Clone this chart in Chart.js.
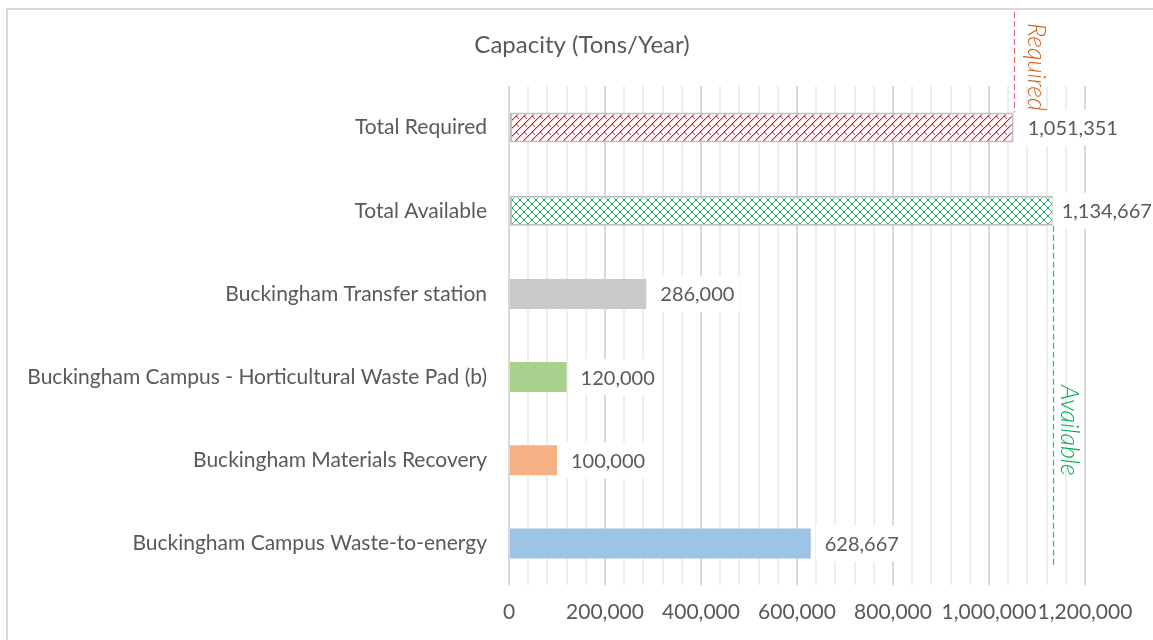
<!DOCTYPE html>
<html>
<head>
<meta charset="utf-8">
<script src="https://cdn.jsdelivr.net/npm/chart.js@4.4.1/dist/chart.umd.min.js"></script>
<style>
  html, body { margin: 0; padding: 0; background: #ffffff; }
  #wrap { width: 1153px; height: 640px; position: relative; }
</style>
</head>
<body>
<div id="wrap"><canvas id="c" width="1153" height="640"></canvas></div>
<script>
// ---- Data ----
const categories = [
  'Total Required',
  'Total Available',
  'Buckingham Transfer station',
  'Buckingham Campus - Horticultural Waste Pad (b)',
  'Buckingham Materials Recovery',
  'Buckingham Campus Waste-to-energy'
];
const capacity = [1051351, 1134667, 286000, 120000, 100000, 628667];
const chartTitle = 'Capacity (Tons/Year)';
const axisMin = 0;
const axisMax = 1200000;
const majorStep = 200000;
const minorStep = 40000;
const refRequired = { label: 'Required', value: 1051351 };
const refAvailable = { label: 'Available', value: 1134667 };

// ---- Styles ----
const TEXT = '#595959';
const FONT = 'Lato';

function makePattern(kind) {
  const c = document.createElement('canvas');
  c.width = 8; c.height = 8;
  const g = c.getContext('2d');
  g.fillStyle = '#ffffff';
  g.fillRect(0, 0, 8, 8);
  const px = (x, y, col) => { g.fillStyle = col; g.fillRect(((x % 8) + 8) % 8, ((y % 8) + 8) % 8, 1, 1); };
  if (kind === 'red') {
    for (let i = 0; i < 8; i++) px(i + 1, 7 - i, '#f2a9ae');
    for (let i = 0; i < 8; i++) px(i, 7 - i, '#cc1f2c');
    px(4, 4, '#d0303c'); px(5, 5, '#d84452'); px(6, 6, '#e26a74');
    px(5, 4, '#f5c2c6'); px(6, 5, '#f7d0d3');
  } else {
    for (let i = 0; i < 8; i++) { px(i, i, '#4cc37f'); px(7 - i, i, '#4cc37f'); }
    px(3, 3, '#00a34e'); px(4, 4, '#00a34e'); px(3, 4, '#00a34e'); px(4, 3, '#00a34e');
    px(0, 0, '#00a34e'); px(7, 7, '#00a34e'); px(0, 7, '#00a34e'); px(7, 0, '#00a34e');
  }
  const ctx = document.getElementById('c').getContext('2d');
  return ctx.createPattern(c, 'repeat');
}

const barColors = [
  makePattern('red'),
  makePattern('green'),
  '#c9c9c9',
  '#a9d18e',
  '#f4b183',
  '#9dc3e6'
];
const barBorders = ['#bfbfbf', '#bfbfbf', 'rgba(0,0,0,0)', 'rgba(0,0,0,0)', 'rgba(0,0,0,0)', 'rgba(0,0,0,0)'];
const barBorderW = [2, 2, 0, 0, 0, 0];

const fmt = v => v.toLocaleString('en-US');

const framePlugin = {
  id: 'frame',
  beforeDraw(chart) {
    const ctx = chart.ctx;
    ctx.save();
    ctx.fillStyle = '#ffffff';
    ctx.fillRect(0, 0, chart.width, chart.height);
    ctx.strokeStyle = '#d9d9d9';
    ctx.lineWidth = 2;
    ctx.strokeRect(7, 9, 1300, 800);
    ctx.fillStyle = TEXT;
    ctx.font = '24px ' + FONT;
    ctx.textAlign = 'center';
    ctx.textBaseline = 'middle';
    ctx.fillText(chartTitle, 582, 45);
    ctx.restore();
  }
};

const labelPlugin = {
  id: 'valueLabels',
  afterDatasetsDraw(chart) {
    const ctx = chart.ctx;
    const meta = chart.getDatasetMeta(0);
    ctx.save();
    ctx.font = '20px ' + FONT;
    ctx.textBaseline = 'middle';
    ctx.textAlign = 'left';
    meta.data.forEach((bar, i) => {
      const txt = fmt(chart.data.datasets[0].data[i]);
      const w = ctx.measureText(txt).width;
      let tx = bar.x + 14;
      if (tx + w > chart.width - 2) tx = Math.max(bar.x + 8, chart.width - 2 - w);
      ctx.fillStyle = '#ffffff';
      ctx.fillRect(tx - 9, bar.y - 18, w + 14, 36);
      ctx.fillStyle = TEXT;
      ctx.fillText(txt, tx, bar.y + 1);
    });
    ctx.restore();
  }
};

const refPlugin = {
  id: 'refLines',
  afterDatasetsDraw(chart) {
    const ctx = chart.ctx;
    const xs = chart.scales.x;
    const area = chart.chartArea;
    const meta = chart.getDatasetMeta(0);
    const barReq = meta.data[0];
    const barAvl = meta.data[1];
    ctx.save();
    ctx.lineWidth = 1.2;
    ctx.setLineDash([6, 3]);
    // Required line
    let x = Math.round(xs.getPixelForValue(refRequired.value)) + 0.5;
    ctx.strokeStyle = '#de6f78';
    ctx.beginPath();
    ctx.moveTo(x, 12);
    ctx.lineTo(x, barReq.y - barReq.height / 2);
    ctx.stroke();
    ctx.setLineDash([]);
    ctx.save();
    ctx.translate(x + 22, 23);
    ctx.rotate(Math.PI / 2);
    ctx.font = 'italic 300 25px ' + FONT;
    ctx.fillStyle = '#cf6420';
    ctx.textAlign = 'left';
    ctx.textBaseline = 'middle';
    ctx.fillText(refRequired.label, 0, 0);
    ctx.restore();
    // Available line
    ctx.setLineDash([6, 3]);
    x = Math.round(xs.getPixelForValue(refAvailable.value)) - 0.5;
    ctx.strokeStyle = '#2fbf6e';
    ctx.beginPath();
    ctx.moveTo(x, barAvl.y + barAvl.height / 2);
    ctx.lineTo(x, area.bottom - 19);
    ctx.stroke();
    ctx.setLineDash([]);
    ctx.save();
    ctx.translate(x + 16, 385);
    ctx.rotate(Math.PI / 2);
    ctx.font = 'italic 300 25px ' + FONT;
    ctx.fillStyle = '#00b050';
    ctx.textAlign = 'left';
    ctx.textBaseline = 'middle';
    ctx.fillText(refAvailable.label, 0, 0);
    ctx.restore();
    ctx.restore();
  }
};

new Chart(document.getElementById('c'), {
  type: 'bar',
  data: {
    labels: categories,
    datasets: [{
      data: capacity,
      backgroundColor: barColors,
      borderColor: barBorders,
      borderWidth: barBorderW,
      borderSkipped: false,
      barPercentage: 0.36,
      categoryPercentage: 1.0
    }]
  },
  options: {
    indexAxis: 'y',
    responsive: false,
    animation: false,
    devicePixelRatio: 1,
    layout: { padding: { left: 0, right: 68, top: 86, bottom: 0 } },
    plugins: {
      legend: { display: false },
      tooltip: { enabled: false },
      title: { display: false }
    },
    scales: {
      x: {
        type: 'linear',
        min: axisMin,
        max: axisMax,
        afterFit(scale) { scale.height = 55; },
        ticks: {
          stepSize: minorStep,
          autoSkip: false,
          maxRotation: 0,
          padding: 15,
          color: TEXT,
          font: { family: FONT, size: 21 },
          callback: v => (v % majorStep === 0 ? fmt(v) : '')
        },
        grid: {
          drawTicks: false,
          color: c => (c.tick && c.tick.value % majorStep === 0 ? '#d9d9d9' : '#eeeeee'),
          lineWidth: 2
        },
        border: { display: false }
      },
      y: {
        afterFit(scale) { scale.width = 509; },
        ticks: {
          padding: 22,
          color: TEXT,
          font: { family: FONT, size: 21 }
        },
        grid: { display: false, drawTicks: false },
        border: { display: false }
      }
    }
  },
  plugins: [framePlugin, labelPlugin, refPlugin]
});
</script>
</body>
</html>
